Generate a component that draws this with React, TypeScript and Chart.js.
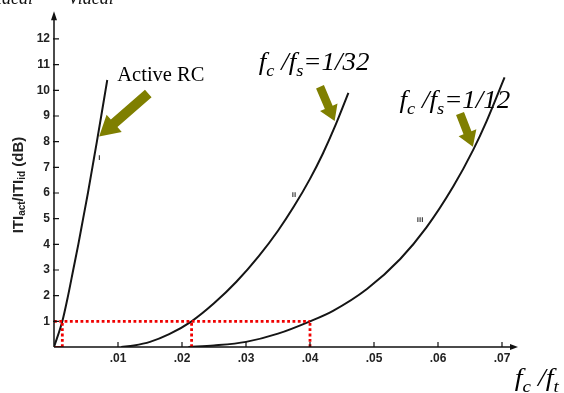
import React, { useEffect, useRef } from "react";
import { Chart, registerables } from "chart.js";
Chart.register(...registerables);

// ---- data ----
const xTicks = [0.01, 0.02, 0.03, 0.04, 0.05, 0.06, 0.07];
const xTickLabels = [".01", ".02", ".03", ".04", ".05", ".06", ".07"];
const yTicks = [1, 2, 3, 4, 5, 6, 7, 8, 9, 10, 11, 12];

// curve i (Active RC)
const curveIX = [0, 0.0013, 0.0022, 0.003, 0.0038, 0.00455, 0.0053, 0.006, 0.0067, 0.00738, 0.00805, 0.00832];
const curveIY = [0, 1, 2, 3, 4, 5, 6, 7, 8, 9, 10, 10.4];
// curve ii (fc/fs = 1/32)
const curveIIX = [0.0105, 0.0125, 0.015, 0.018, 0.0215, 0.025, 0.0285, 0.032, 0.035, 0.0375, 0.04, 0.042, 0.044, 0.046];
const curveIIY = [0, 0.06, 0.2, 0.5, 1.0, 1.7, 2.54, 3.54, 4.53, 5.48, 6.55, 7.53, 8.65, 9.9];
// curve iii (fc/fs = 1/12)
const curveIIIX = [0.021, 0.025, 0.03, 0.035, 0.04, 0.0436, 0.0489, 0.0541, 0.0582, 0.0624, 0.0655, 0.0676, 0.0704];
const curveIIIY = [0, 0.06, 0.2, 0.52, 1.0, 1.41, 2.26, 3.43, 4.66, 6.26, 7.68, 8.8, 10.5];

const refLevel = 1;
const crossX = [0.0013, 0.0215, 0.04];

type Seg = { t: string; sub?: boolean };

function drawRich(ctx: CanvasRenderingContext2D, x: number, y: number, segs: Seg[], mainFont: string, subFont: string, subDy: number, hScale = 1, measureOnly = false) {
  ctx.save();
  ctx.translate(x, y);
  ctx.scale(hScale, 1);
  let cx = 0;
  for (const s of segs) {
    ctx.font = s.sub ? subFont : mainFont;
    if (!measureOnly) ctx.fillText(s.t, cx, s.sub ? subDy : 0);
    cx += ctx.measureText(s.t).width;
  }
  ctx.restore();
  return cx * hScale;
}

function blockArrow(ctx: CanvasRenderingContext2D, x1: number, y1: number, x2: number, y2: number, shaftW: number, headW: number, headL: number) {
  const dx = x2 - x1, dy = y2 - y1;
  const len = Math.hypot(dx, dy);
  const ux = dx / len, uy = dy / len;
  const nx = -uy, ny = ux;
  const bx = x2 - ux * headL, by = y2 - uy * headL;
  ctx.beginPath();
  ctx.moveTo(x1 + nx * shaftW / 2, y1 + ny * shaftW / 2);
  ctx.lineTo(bx + nx * shaftW / 2, by + ny * shaftW / 2);
  ctx.lineTo(bx + nx * headW / 2, by + ny * headW / 2);
  ctx.lineTo(x2, y2);
  ctx.lineTo(bx - nx * headW / 2, by - ny * headW / 2);
  ctx.lineTo(bx - nx * shaftW / 2, by - ny * shaftW / 2);
  ctx.lineTo(x1 - nx * shaftW / 2, y1 - ny * shaftW / 2);
  ctx.closePath();
  ctx.fill();
}

const overlay = {
  id: "overlay",
  afterDraw(chart: any) {
    const ctx: CanvasRenderingContext2D = chart.ctx;
    const xs = chart.scales.x, ys = chart.scales.y;
    const area = chart.chartArea;
    const px = (v: number) => xs.getPixelForValue(v);
    const py = (v: number) => ys.getPixelForValue(v);
    const X0 = px(0), Y0 = py(0);
    ctx.save();
    // axes
    ctx.strokeStyle = "#111";
    ctx.fillStyle = "#111";
    ctx.lineWidth = 1.5;
    ctx.beginPath();
    ctx.moveTo(X0, Y0);
    ctx.lineTo(X0, area.top + 4);
    ctx.moveTo(X0, Y0);
    ctx.lineTo(area.right - 4, Y0);
    ctx.stroke();
    // arrowheads
    ctx.beginPath();
    ctx.moveTo(X0, area.top - 2);
    ctx.lineTo(X0 - 3, area.top + 7);
    ctx.lineTo(X0 + 3, area.top + 7);
    ctx.closePath();
    ctx.fill();
    ctx.beginPath();
    ctx.moveTo(area.right, Y0);
    ctx.lineTo(area.right - 8, Y0 - 3);
    ctx.lineTo(area.right - 8, Y0 + 3);
    ctx.closePath();
    ctx.fill();
    // tick marks
    ctx.lineWidth = 1.2;
    ctx.beginPath();
    for (const v of xTicks) {
      ctx.moveTo(px(v), Y0);
      ctx.lineTo(px(v), Y0 - 5);
    }
    for (const v of yTicks) {
      ctx.moveTo(X0 - 1, py(v));
      ctx.lineTo(X0 + 5, py(v));
    }
    ctx.stroke();

    // y axis title
    ctx.save();
    ctx.translate(19, 185);
    ctx.rotate(-Math.PI / 2);
    ctx.fillStyle = "#222";
    ctx.textBaseline = "middle";
    const ySegs: Seg[] = [{ t: "ITI" }, { t: "act", sub: true }, { t: "/ITI" }, { t: "id", sub: true }, { t: " (dB)" }];
    const mf = 'bold 15px "Liberation Sans"', sf = 'bold 10px "Liberation Sans"';
    const w = drawRich(ctx, 0, 0, ySegs, mf, sf, 3.5, 1, true);
    drawRich(ctx, -w / 2, 0, ySegs, mf, sf, 3.5);
    ctx.restore();

    // olive arrows
    ctx.fillStyle = "#7f7f00";
    blockArrow(ctx, px(0.01473), py(9.88), px(0.00705), py(8.2), 10, 23, 20);
    blockArrow(ctx, px(0.04156), py(10.14), px(0.04385), py(8.8), 8.5, 19, 15);
    blockArrow(ctx, px(0.06344), py(9.1), px(0.06545), py(7.8), 8.5, 19, 15);

    // annotation texts
    ctx.fillStyle = "#000";
    ctx.textBaseline = "alphabetic";
    ctx.font = '20.5px "Liberation Serif"';
    ctx.fillText("Active RC", px(0.00989), py(10.36));
    const fmain = 'italic 25px "Liberation Serif"', fsub = 'italic 17px "Liberation Serif"';
    drawRich(ctx, px(0.032), py(10.79), [{ t: "f" }, { t: "c", sub: true }, { t: " /" }, { t: "f" }, { t: "s", sub: true }, { t: "=1/32" }], fmain, fsub, 6, 1.08);
    drawRich(ctx, px(0.054), py(9.3), [{ t: "f" }, { t: "c", sub: true }, { t: " /" }, { t: "f" }, { t: "s", sub: true }, { t: "=1/12" }], fmain, fsub, 6, 1.08);
    drawRich(ctx, px(0.072), py(-1.52), [{ t: "f" }, { t: "c", sub: true }, { t: " /" }, { t: "f" }, { t: "t", sub: true }], fmain, fsub, 6, 1.12);

    // curve labels
    ctx.fillStyle = "#333";
    ctx.font = 'bold 8px "Liberation Sans"';
    ctx.textAlign = "center";
    ctx.textBaseline = "middle";
    ctx.fillText("i", px(0.00708), py(7.36));
    ctx.fillText("ii", px(0.0375), py(5.92));
    ctx.fillText("iii", px(0.0572), py(4.95));

    // clipped heading text at the very top
    ctx.textAlign = "left";
    ctx.textBaseline = "alphabetic";
    ctx.fillStyle = "#111";
    ctx.font = 'italic 18px "Liberation Serif"';
    ctx.fillText("ideal", -3, 4);
    ctx.fillText("Videal", 68, 4);
    ctx.restore();
  },
};

export default function App() {
  const ref = useRef<HTMLCanvasElement>(null);
  useEffect(() => {
    const canvas = ref.current!;
    const toPts = (xs: number[], ys: number[]) => xs.map((x, i) => ({ x, y: ys[i] }));
    const curveStyle = {
      borderColor: "#151515",
      borderWidth: 2,
      pointRadius: 0,
      fill: false,
      cubicInterpolationMode: "monotone" as const,
      order: 2,
    };
    const redStyle = {
      borderColor: "#f00000",
      borderWidth: 2.8,
      borderDash: [2.8, 2.5],
      pointRadius: 0,
      fill: false,
      tension: 0,
      order: 1,
    };
    const datasets: any[] = [
      { ...curveStyle, data: toPts(curveIX, curveIY) },
      { ...curveStyle, data: toPts(curveIIX, curveIIY) },
      { ...curveStyle, data: toPts(curveIIIX, curveIIIY) },
      { ...redStyle, data: [{ x: 0, y: refLevel }, { x: crossX[2], y: refLevel }] },
      ...crossX.map((cx) => ({ ...redStyle, data: [{ x: cx, y: 0 }, { x: cx, y: refLevel }] })),
      { ...redStyle, borderDash: [], borderWidth: 2, data: [{ x: 0, y: 0 }, { x: crossX[0], y: 0 }] },
    ];
    const tickFont = { family: "Liberation Sans", weight: "bold" as const, size: 12 };
    const chart = new Chart(canvas, {
      type: "line",
      data: { datasets },
      options: {
        responsive: false,
        animation: false,
        layout: { padding: { top: 13.3, right: 46, left: 0, bottom: 0 } },
        plugins: { legend: { display: false }, tooltip: { enabled: false } },
        scales: {
          x: {
            type: "linear",
            min: 0,
            max: 0.0725,
            grid: { display: false, drawTicks: false },
            border: { display: false },
            afterBuildTicks: (s: any) => {
              s.ticks = xTicks.map((v) => ({ value: v }));
            },
            afterFit: (s: any) => {
              s.height = 46;
            },
            ticks: {
              callback: (_v: any, i: number) => xTickLabels[i],
              font: tickFont,
              color: "#222",
              padding: 4,
              maxRotation: 0,
              autoSkip: false,
            },
          },
          y: {
            type: "linear",
            min: 0,
            max: 13,
            grid: { display: false, drawTicks: false },
            border: { display: false },
            afterBuildTicks: (s: any) => {
              s.ticks = yTicks.map((v) => ({ value: v }));
            },
            afterFit: (s: any) => {
              s.width = 54;
            },
            ticks: {
              callback: (v: any) => String(v),
              font: tickFont,
              color: "#222",
              padding: 4,
              autoSkip: false,
            },
          },
        },
      },
      plugins: [overlay],
    });
    return () => chart.destroy();
  }, []);
  return (
    <div style={{ position: "fixed", left: 0, top: 0, width: 564, height: 393, background: "#fff" }}>
      <canvas ref={ref} width={564} height={393} style={{ display: "block" }} />
    </div>
  );
}
